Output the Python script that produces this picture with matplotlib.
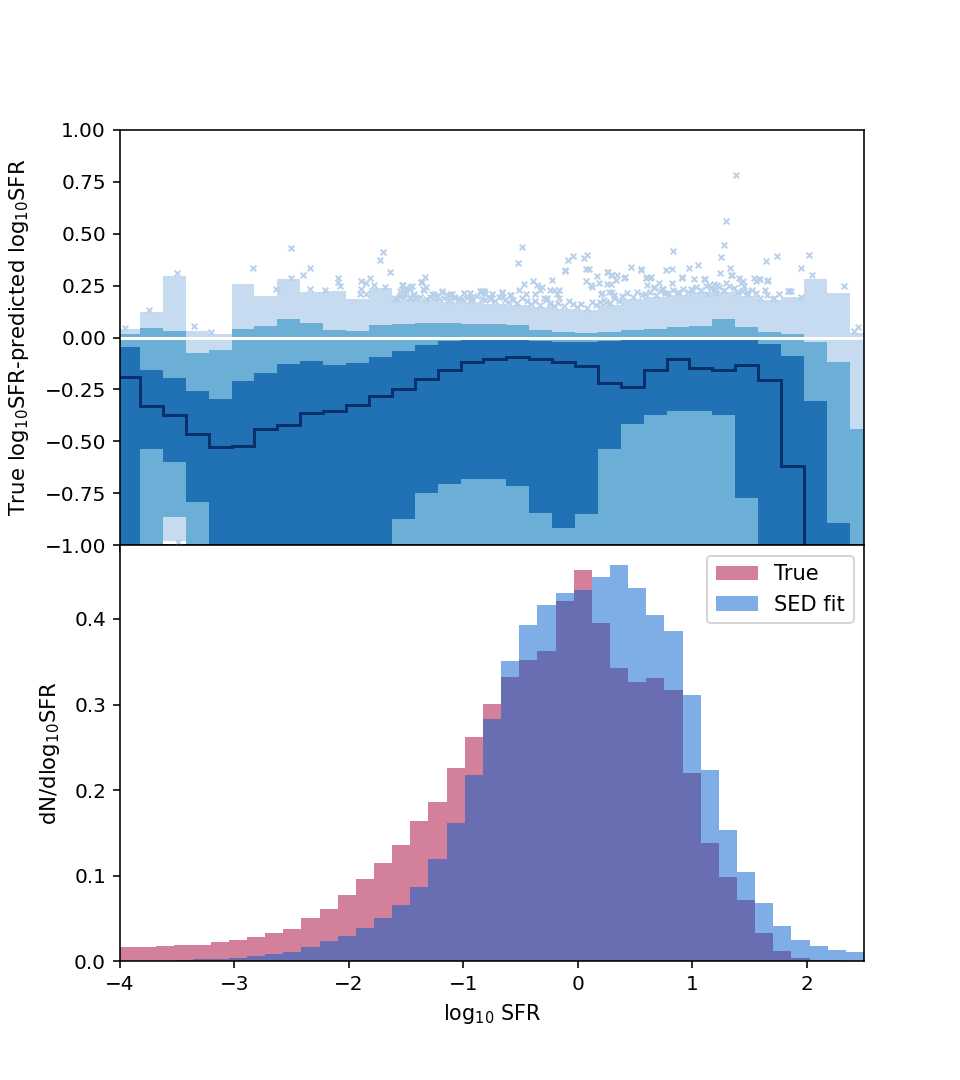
import numpy as np
import matplotlib
matplotlib.use("Agg")
import matplotlib.pyplot as plt

# ---- top panel: residual percentile bands, bins of 0.2 dex ----
top_edges = -4.025 + 0.2 * np.arange(34)

light_hi = [0.043, 0.122, 0.296, 0.032, 0.019, 0.256, 0.199, 0.279, 0.221, 0.226, 0.184,
            0.240, 0.179, 0.179, 0.171, 0.171, 0.163, 0.155, 0.147, 0.139, 0.131, 0.155,
            0.187, 0.195, 0.203, 0.219, 0.219, 0.199, 0.179, 0.195, 0.280, 0.216, 0.022]
light_lo = [-1.4, -1.4, -0.978] + [-1.4] * 30
mid_hi = [0.016, 0.045, 0.030, -0.075, -0.062, 0.040, 0.054, 0.090, 0.072, 0.038, 0.029,
          0.058, 0.064, 0.072, 0.072, 0.067, 0.064, 0.058, 0.038, 0.027, 0.022, 0.025,
          0.036, 0.043, 0.050, 0.054, 0.091, 0.051, 0.027, 0.016, -0.020, -0.117, -0.442]
mid_lo = [-1.3, -1.3, -0.862] + [-1.3] * 30
dark_hi = [-0.048, -0.157, -0.194, -0.255, -0.295, -0.209, -0.173, -0.128, -0.114, -0.130,
           -0.122, -0.093, -0.064, -0.034, -0.018, -0.008, -0.005, -0.005, -0.015, -0.020,
           -0.020, -0.015, -0.010, -0.005, -0.005, -0.003, -0.003, -0.005, -0.029, -0.090,
           -0.306, -0.894, -1.200]
dark_lo = [-1.2, -0.538, -0.601, -0.790, -1.2, -1.2, -1.2, -1.2, -1.2, -1.2, -1.2, -1.2,
           -0.875, -0.750, -0.705, -0.681, -0.682, -0.713, -0.845, -0.918, -0.848, -0.537,
           -0.414, -0.374, -0.354, -0.354, -0.374, -0.771, -1.2, -1.2, -1.2, -1.5, -1.6]
median = [-0.189, -0.330, -0.374, -0.466, -0.526, -0.523, -0.439, -0.422, -0.362, -0.354,
          -0.325, -0.282, -0.250, -0.202, -0.157, -0.119, -0.105, -0.096, -0.103, -0.119,
          -0.138, -0.221, -0.237, -0.157, -0.103, -0.149, -0.157, -0.133, -0.205, -0.619,
          -1.5, -1.6, -1.7]

# outliers (x, residual)
outliers = [
    (-3.956, 0.048), (-3.744, 0.131), (-3.504, 0.312), (-3.353, 0.054), (-3.204, 0.027),
    (-3.49, -0.985), (-2.839, 0.332), (-2.510, 0.429), (-2.510, 0.288), (-2.402, 0.300),
    (-2.338, 0.332), (-2.338, 0.231), (-2.635, 0.234), (-2.207, 0.227), (-2.099, 0.284),
    (-2.099, 0.267), (-2.075, 0.248), (-1.894, 0.272), (-1.851, 0.264), (-1.813, 0.284),
    (-1.784, 0.251), (-1.906, 0.207), (-1.894, 0.231), (-1.851, 0.207), (-1.725, 0.372),
    (-1.702, 0.410), (-1.644, 0.315), (-1.683, 0.243), (-1.550, 0.224), (-1.527, 0.251),
    (-1.550, 0.203), (-1.463, 0.243), (-1.497, 0.227), (-1.434, 0.207), (-1.361, 0.267),
    (-1.338, 0.291), (-1.324, 0.243), (-1.347, 0.227), (-1.273, 0.211), (-1.186, 0.219),
    (-1.113, 0.211), (-0.997, 0.214), (-0.939, 0.214), (-0.851, 0.224), (-0.807, 0.214),
    (-1.536, 0.251), (-1.522, 0.227), (-1.507, 0.211), (-1.478, 0.235), (-1.449, 0.247),
    (-1.370, 0.268), (-1.353, 0.231), (-1.551, 0.195), (-1.463, 0.195), (-1.259, 0.211),
    (-1.230, 0.195), (-1.186, 0.224), (-1.142, 0.203), (-1.099, 0.211), (-1.070, 0.192),
    (-0.997, 0.216), (-0.938, 0.215), (-0.924, 0.192), (-0.836, 0.223), (-0.816, 0.215),
    (-0.749, 0.211), (-0.763, 0.188), (-0.661, 0.216), (-0.653, 0.195), (-0.588, 0.203),
    (-0.515, 0.227), (-0.472, 0.259), (-0.449, 0.208), (-0.524, 0.359), (-0.486, 0.433),
    (-0.390, 0.272), (-0.355, 0.251), (-0.332, 0.227), (-0.311, 0.243), (-0.297, 0.192),
    (-0.230, 0.275), (-0.209, 0.227), (-0.180, 0.211), (-0.166, 0.192), (-0.244, 0.163),
    (-0.268, 0.188), (-0.822, 0.224), (-0.749, 0.211), (-0.661, 0.219), (-0.589, 0.203),
    (-0.370, 0.211), (-0.239, 0.227), (-0.166, 0.227), (-0.116, 0.320), (-0.113, 0.323),
    (-0.087, 0.375), (-0.040, 0.391), (0.053, 0.384), (0.076, 0.399), (0.070, 0.328),
    (0.097, 0.328), (0.068, 0.271), (0.117, 0.251), (0.126, 0.243), (0.164, 0.295),
    (0.184, 0.263), (0.199, 0.211), (0.213, 0.215), (0.257, 0.316), (0.243, 0.171),
    (0.251, 0.259), (0.263, 0.315), (0.272, 0.219), (0.286, 0.300), (0.292, 0.256),
    (0.295, 0.303), (0.301, 0.219), (0.315, 0.203), (0.330, 0.275), (0.345, 0.299),
    (0.403, 0.288), (0.409, 0.291), (0.461, 0.340), (0.549, 0.327), (0.555, 0.328),
    (0.593, 0.288), (0.601, 0.291), (0.607, 0.251), (0.630, 0.288), (0.636, 0.291),
    (0.665, 0.236), (0.665, 0.243), (0.709, 0.260), (0.738, 0.231), (0.747, 0.235),
    (0.768, 0.327), (0.826, 0.328), (0.835, 0.415), (0.820, 0.260), (0.875, 0.219),
    (0.913, 0.284), (0.913, 0.291), (0.972, 0.332), (1.015, 0.280), (1.053, 0.351),
    (0.995, 0.227), (1.103, 0.279), (1.109, 0.279), (1.147, 0.251), (1.132, 0.211),
    (1.190, 0.259), (1.205, 0.215), (1.220, 0.251), (1.243, 0.308), (1.254, 0.388),
    (1.278, 0.444), (1.298, 0.559), (1.386, 0.780), (1.330, 0.336), (1.342, 0.300),
    (1.351, 0.299), (1.292, 0.260), (1.409, 0.284), (1.424, 0.264), (1.447, 0.272),
    (1.395, 0.219), (1.453, 0.247), (1.482, 0.219), (1.540, 0.287), (1.555, 0.272),
    (1.584, 0.279), (1.593, 0.279), (1.634, 0.227), (1.642, 0.368), (1.651, 0.272),
    (1.657, 0.275), (1.701, 0.187), (1.744, 0.391), (1.832, 0.224), (1.846, 0.224),
    (1.861, 0.224), (1.949, 0.332), (1.948, 0.195), (2.021, 0.396), (2.042, 0.299),
    (2.327, 0.247), (2.444, 0.051), (2.409, 0.032),
]
# dense crowd of crosses sitting just above the outer band
edge_crowd = [
    (-1.61, 0.192), (-1.58, 0.186), (-1.52, 0.195), (-1.47, 0.188), (-1.44, 0.198),
    (-1.41, 0.190), (-1.38, 0.197), (-1.33, 0.186), (-1.29, 0.193), (-1.25, 0.200),
    (-1.21, 0.183), (-1.17, 0.190), (-1.13, 0.181), (-1.08, 0.196), (-1.04, 0.186),
    (-1.01, 0.185), (-0.97, 0.192), (-0.93, 0.181), (-0.88, 0.198), (-0.84, 0.187),
    (-0.81, 0.178), (-0.77, 0.186), (-0.72, 0.174), (-0.69, 0.195), (-0.64, 0.181),
    (-0.61, 0.170), (-0.57, 0.181), (-0.53, 0.166), (-0.49, 0.188), (-0.44, 0.175),
    (-0.41, 0.162), (-0.37, 0.175), (-0.33, 0.158), (-0.28, 0.182), (-0.24, 0.168),
    (-0.21, 0.152), (-0.17, 0.166), (-0.12, 0.150), (-0.08, 0.175), (-0.04, 0.160),
    (-0.01, 0.148), (0.03, 0.160), (0.08, 0.143), (0.12, 0.170), (0.16, 0.155),
    (0.19, 0.170), (0.23, 0.182), (0.28, 0.166), (0.32, 0.190), (0.36, 0.175),
    (0.39, 0.200), (0.43, 0.212), (0.48, 0.196), (0.52, 0.220), (0.56, 0.205),
    (0.59, 0.208), (0.63, 0.220), (0.68, 0.204), (0.72, 0.226), (0.76, 0.212),
    (0.79, 0.216), (0.83, 0.228), (0.88, 0.212), (0.92, 0.232), (0.96, 0.220),
    (0.99, 0.232), (1.03, 0.244), (1.08, 0.228), (1.12, 0.248), (1.16, 0.236),
    (1.19, 0.232), (1.23, 0.242), (1.28, 0.228), (1.32, 0.250), (1.36, 0.236),
    (1.39, 0.212), (1.43, 0.226), (1.48, 0.208), (1.52, 0.230), (1.56, 0.216),
    (1.59, 0.192), (1.65, 0.205), (1.71, 0.190), (1.76, 0.210),
]
out_x, out_y = zip(*(outliers + edge_crowd))

# ---- bottom panel: normalised histograms ----
hist_edges = np.linspace(-4, 2.5, 42)
true_h = [0.0168, 0.0170, 0.0179, 0.0187, 0.0185, 0.0222, 0.0246, 0.0280, 0.0335, 0.0382,
          0.0507, 0.0612, 0.0768, 0.0959, 0.1146, 0.1353, 0.1634, 0.1860, 0.2260, 0.2624,
          0.3006, 0.3318, 0.3517, 0.3630, 0.4210, 0.4573, 0.3953, 0.3430, 0.3260, 0.3306,
          0.3174, 0.2203, 0.1380, 0.0982, 0.0713, 0.0335, 0.0120, 0.0035, 0.0015, 0.0010,
          0.0005]
sed_h = [0.0003, 0.0005, 0.0008, 0.0012, 0.0020, 0.0030, 0.0040, 0.0060, 0.0086, 0.0110,
         0.0164, 0.0234, 0.0292, 0.0390, 0.0507, 0.0659, 0.0873, 0.1197, 0.1618, 0.2180,
         0.2834, 0.3505, 0.3934, 0.4164, 0.4304, 0.4340, 0.4491, 0.4628, 0.4366, 0.4043,
         0.3860, 0.3107, 0.2234, 0.1536, 0.1045, 0.0678, 0.0406, 0.0246, 0.0172, 0.0129,
         0.0109]
hist_centres = 0.5 * (hist_edges[:-1] + hist_edges[1:])

fig, (ax1, ax2) = plt.subplots(2, 1, sharex=True, figsize=(6.6667, 7.5), dpi=144)
fig.subplots_adjust(hspace=0)

ax1.stairs(light_hi, top_edges, baseline=light_lo, fill=True, color='#c6dbef', lw=0)
ax1.stairs(mid_hi, top_edges, baseline=mid_lo, fill=True, color='#6baed6', lw=0)
ax1.stairs(dark_hi, top_edges, baseline=dark_lo, fill=True, color='#2171b5', lw=0)
ax1.stairs(median, top_edges, baseline=None, color='#08306b', lw=1.5)
ax1.axhline(0, color='white', lw=1.5)
ax1.scatter(out_x, out_y, marker='x', s=8, linewidths=1.0, color='#b8d0ea', zorder=3)
ax1.set_ylim(-1, 1)
ax1.set_yticks(np.arange(-1, 1.01, 0.25))
ax1.set_ylabel(r'True log$_{10}$SFR-predicted log$_{10}$SFR', fontsize=10.6, labelpad=7)

ax2.hist(hist_centres, bins=hist_edges, weights=true_h, color='#a90537', alpha=0.5, label='True')
ax2.hist(hist_centres, bins=hist_edges, weights=sed_h, color='#005dcd', alpha=0.5, label='SED fit')
ax2.set_xlim(-4, 2.5)
ax2.set_ylim(0, 0.486)
ax2.set_xlabel(r'log$_{10}$ SFR', fontsize=10.4)
ax2.set_ylabel(r'dN/dlog$_{10}$SFR', fontsize=10.6, labelpad=6)
ax2.legend(loc='upper right', fontsize=10.5)

plt.savefig('out.png', dpi=144)
plt.close()
